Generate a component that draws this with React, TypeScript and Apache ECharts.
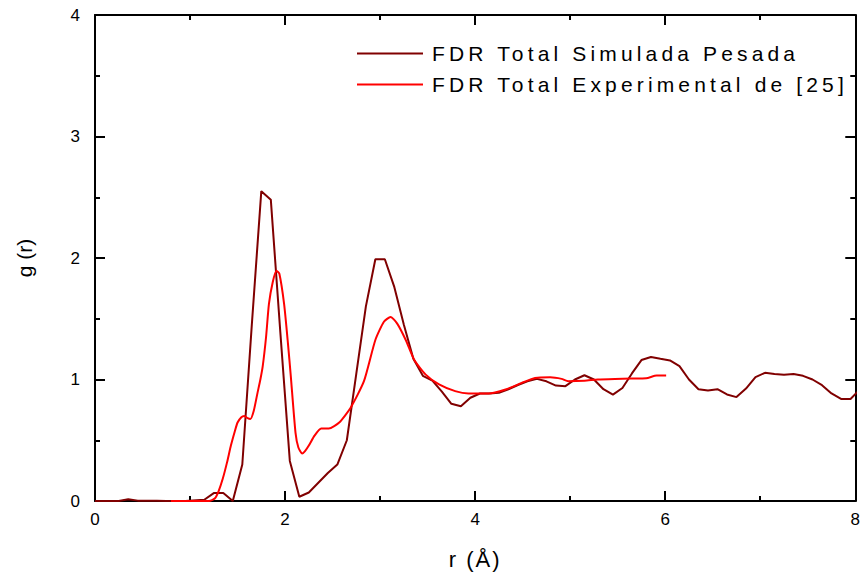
import React, { useEffect, useRef } from "react";
import * as echarts from "echarts";

// Simulated total RDF (FDR Total Simulada Pesada)
const simR = [0, 0.25, 0.35, 0.45, 0.65, 0.75, 0.95, 1.15, 1.25, 1.35, 1.45, 1.55, 1.65, 1.75, 1.85, 1.95, 2.05, 2.15, 2.25, 2.35, 2.45, 2.55, 2.65, 2.75, 2.85, 2.95, 3.05, 3.15, 3.25, 3.35, 3.45, 3.55, 3.65, 3.75, 3.85, 3.95, 4.05, 4.15, 4.25, 4.35, 4.45, 4.55, 4.65, 4.75, 4.85, 4.95, 5.05, 5.15, 5.25, 5.35, 5.45, 5.55, 5.65, 5.75, 5.85, 5.95, 6.05, 6.15, 6.25, 6.35, 6.45, 6.55, 6.65, 6.75, 6.85, 6.95, 7.05, 7.15, 7.25, 7.35, 7.45, 7.55, 7.65, 7.75, 7.85, 7.95, 8.05];
const simG = [0, 0, 0.015, 0.003, 0.003, 0, 0, 0.01, 0.065, 0.065, 0, 0.3, 1.45, 2.55, 2.48, 1.39, 0.33, 0.035, 0.07, 0.15, 0.23, 0.3, 0.5, 1.05, 1.6, 1.99, 1.99, 1.76, 1.45, 1.17, 1.03, 0.99, 0.9, 0.8, 0.78, 0.85, 0.885, 0.885, 0.89, 0.92, 0.955, 0.985, 1.005, 0.985, 0.95, 0.945, 1.0, 1.035, 1.0, 0.92, 0.875, 0.93, 1.05, 1.16, 1.185, 1.17, 1.157, 1.11, 1.0, 0.92, 0.91, 0.92, 0.877, 0.855, 0.925, 1.02, 1.055, 1.045, 1.04, 1.045, 1.03, 1.0, 0.953, 0.885, 0.84, 0.84, 0.92];

// Experimental total RDF (FDR Total Experimental de [25])
const expR = [0.8, 1.0, 1.2, 1.26, 1.3, 1.345, 1.39, 1.43, 1.47, 1.5, 1.54, 1.57, 1.6, 1.635, 1.67, 1.71, 1.74, 1.765, 1.8, 1.83, 1.87, 1.91, 1.94, 1.99, 2.03, 2.06, 2.11, 2.14, 2.18, 2.21, 2.25, 2.31, 2.38, 2.46, 2.57, 2.69, 2.83, 2.95, 3.04, 3.11, 3.18, 3.27, 3.36, 3.48, 3.62, 3.79, 3.93, 4.14, 4.32, 4.49, 4.63, 4.79, 4.91, 4.98, 5.15, 5.29, 5.47, 5.64, 5.8, 5.91, 6.01];
const expG = [0, 0, 0, 0.02, 0.08, 0.185, 0.32, 0.456, 0.57, 0.646, 0.69, 0.7, 0.685, 0.675, 0.74, 0.89, 1.0, 1.11, 1.35, 1.62, 1.8, 1.895, 1.87, 1.62, 1.3, 1.03, 0.56, 0.44, 0.39, 0.41, 0.456, 0.538, 0.597, 0.597, 0.646, 0.768, 0.986, 1.325, 1.475, 1.515, 1.46, 1.325, 1.16, 1.04, 0.959, 0.904, 0.885, 0.885, 0.918, 0.972, 1.013, 1.018, 1.005, 0.986, 0.99, 1.0, 1.005, 1.008, 1.01, 1.032, 1.032];

const seriesNames = ["FDR Total Simulada Pesada", "FDR Total Experimental de [25]"];
const xTitle = "r (Å)";
const yTitle = "g (r)";

const FONT = "Liberation Sans, Arial, sans-serif";
const LEGEND_FONT = "Liberation Sans, spacedlegend";
const TITLE_FONT = "Liberation Sans, spacedtitle";

export default function App() {
  const ref = useRef<HTMLDivElement>(null);
  useEffect(() => {
    if (!ref.current) return;
    const chart = echarts.init(ref.current, undefined, { renderer: "svg" });
    const axisLine = { show: true, onZero: false, lineStyle: { color: "#000", width: 2 } };
    const tick = { show: true, inside: true, length: 10, lineStyle: { color: "#000", width: 2 } };
    const minor = { show: true, splitNumber: 2, length: 5, lineStyle: { color: "#000", width: 2 } };
    chart.setOption({
      animation: false,
      backgroundColor: "#fff",
      grid: { left: 95, right: 5, top: 15, bottom: 69, containLabel: false },
      legend: {
        orient: "vertical",
        left: 357,
        top: 43,
        padding: 0,
        icon: "rect",
        itemWidth: 66,
        itemHeight: 2,
        itemGap: 10,
        textStyle: { fontFamily: LEGEND_FONT, fontSize: 21, color: "#000", lineHeight: 20, padding: [0, 0, 0, 4] },
        data: seriesNames,
      },
      xAxis: [
        {
          type: "value", min: 0, max: 8, interval: 2, position: "bottom",
          axisLine, axisTick: tick, minorTick: minor, splitLine: { show: false },
          axisLabel: { fontFamily: FONT, fontSize: 17, color: "#000", margin: 10 },
          name: xTitle, nameLocation: "middle", nameGap: 47,
          nameTextStyle: { fontFamily: TITLE_FONT, fontSize: 22, color: "#000" },
        },
        {
          type: "value", min: 0, max: 8, interval: 2, position: "top",
          axisLine, axisTick: tick, minorTick: minor, splitLine: { show: false },
          axisLabel: { show: false },
        },
      ],
      yAxis: [
        {
          type: "value", min: 0, max: 4, interval: 1, position: "left",
          axisLine, axisTick: tick, minorTick: minor, splitLine: { show: false },
          axisLabel: { fontFamily: FONT, fontSize: 17, color: "#000", margin: 15 },
          name: yTitle, nameLocation: "middle", nameGap: 60, nameRotate: 90,
          nameTextStyle: { fontFamily: FONT, fontSize: 21, color: "#000" },
        },
        {
          type: "value", min: 0, max: 4, interval: 1, position: "right",
          axisLine, axisTick: tick, minorTick: minor, splitLine: { show: false },
          axisLabel: { show: false },
        },
      ],
      series: [
        {
          name: seriesNames[0], type: "line", symbol: "none", smooth: false,
          lineStyle: { color: "#800000", width: 2 }, itemStyle: { color: "#800000" },
          data: simR.map((r, i) => [r, simG[i]]), z: 3,
        },
        {
          name: seriesNames[1], type: "line", symbol: "none", smooth: 0.2,
          lineStyle: { color: "#ff0000", width: 2 }, itemStyle: { color: "#ff0000" },
          data: expR.map((r, i) => [r, expG[i]]), z: 4,
        },
      ],
    });
    return () => chart.dispose();
  }, []);
  return (
    <>
      <style>{`
        text[style*="spacedlegend"] { letter-spacing: 4.15px; }
        text[style*="spacedtitle"] { letter-spacing: 2px; }
      `}</style>
      <div ref={ref} style={{ position: "fixed", left: 0, top: 0, width: 863, height: 575 }} />
    </>
  );
}
